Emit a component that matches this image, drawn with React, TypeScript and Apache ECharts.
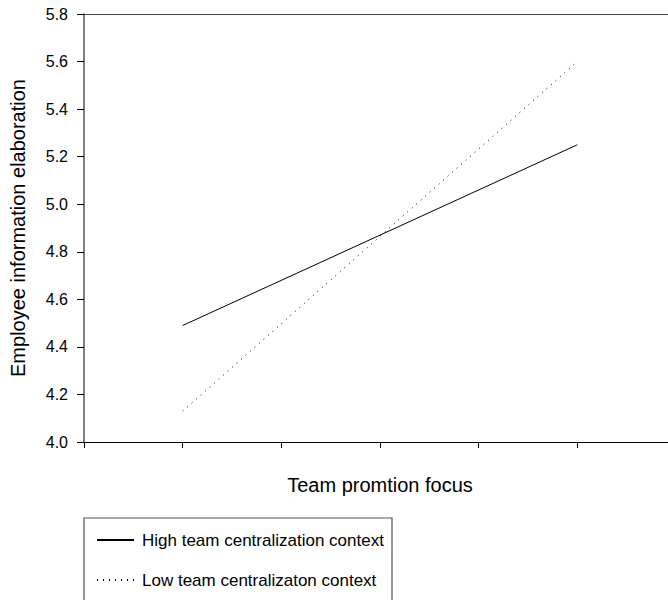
import React, { useEffect, useRef } from "react";
import * as echarts from "echarts";

const xValues = [1, 5];
const highCentralization = [4.49, 5.25];
const lowCentralization = [4.13, 5.6];
const seriesNames = ["High team centralization context", "Low team centralizaton context"];
const xAxisTitle = "Team promtion focus";
const yAxisTitle = "Employee information elaboration";

const FONT = "Liberation Sans, Arial, sans-serif";

export default function App() {
  const ref = useRef<HTMLDivElement>(null);
  useEffect(() => {
    if (!ref.current) return;
    const chart = echarts.init(ref.current, null, { renderer: "svg" });
    const toPairs = (ys: number[]) => xValues.map((x, i) => [x, ys[i]]);
    const legendCommon = {
      orient: "vertical",
      left: 96,
      padding: 0,
      itemWidth: 37,
      itemHeight: 14,
      itemStyle: { opacity: 0 },
      textStyle: {
        fontFamily: FONT,
        fontSize: 17,
        color: "#000",
        lineHeight: 18,
        padding: [0, 0, 0, 3],
      },
    };
    chart.setOption({
      animation: false,
      backgroundColor: "#fff",
      textStyle: { fontFamily: FONT },
      grid: {
        left: 84,
        top: 14,
        width: 592,
        height: 428,
        containLabel: false,
        outerBoundsMode: "none",
      },
      graphic: [
        {
          type: "rect",
          shape: { x: 84, y: 518, width: 308, height: 100 },
          style: { fill: "none", stroke: "#555", lineWidth: 1.2 },
          silent: true,
        },
      ],
      xAxis: [
        {
          type: "value",
          min: 0,
          max: 6,
          interval: 1,
          name: xAxisTitle,
          nameLocation: "middle",
          nameGap: 33,
          nameTextStyle: { fontFamily: FONT, fontSize: 20, color: "#000" },
          axisLine: { show: true, onZero: false, lineStyle: { color: "#000", width: 1.2 } },
          axisTick: { show: true, inside: false, length: 6, lineStyle: { color: "#000", width: 1 } },
          axisLabel: { show: false },
          splitLine: { show: false },
        },
        {
          type: "value",
          position: "top",
          min: 0,
          max: 6,
          interval: 1,
          axisLine: { show: true, lineStyle: { color: "#444", width: 1.2 } },
          axisTick: { show: false },
          axisLabel: { show: false },
          splitLine: { show: false },
        },
      ],
      yAxis: {
        type: "value",
        min: 4.0,
        max: 5.8,
        interval: 0.2,
        name: yAxisTitle,
        nameLocation: "middle",
        nameGap: 56,
        nameRotate: 90,
        nameTextStyle: { fontFamily: FONT, fontSize: 20, color: "#000" },
        axisLine: { show: true, onZero: false, lineStyle: { color: "#555", width: 1.5 } },
        axisTick: { show: true, inside: false, length: 7, lineStyle: { color: "#000", width: 1 } },
        axisLabel: {
          margin: 16,
          fontFamily: FONT,
          fontSize: 16,
          color: "#000",
          formatter: (v: number) => v.toFixed(1),
        },
        splitLine: { show: false },
      },
      legend: [
        { ...legendCommon, top: 531, data: [seriesNames[0]] },
        { ...legendCommon, top: 571, data: [seriesNames[1]] },
      ],
      series: [
        {
          name: seriesNames[0],
          type: "line",
          data: toPairs(highCentralization),
          symbol: "none",
          lineStyle: { color: "#000", width: 1, type: "solid" },
          itemStyle: { color: "#000" },
        },
        {
          name: seriesNames[1],
          type: "line",
          data: toPairs(lowCentralization),
          symbol: "none",
          lineStyle: { color: "#000", width: 1, type: [1, 5] },
          itemStyle: { color: "#000" },
        },
      ],
    });
    return () => chart.dispose();
  }, []);
  return <div ref={ref} style={{ position: "fixed", left: 0, top: 0, width: 668, height: 600 }} />;
}
